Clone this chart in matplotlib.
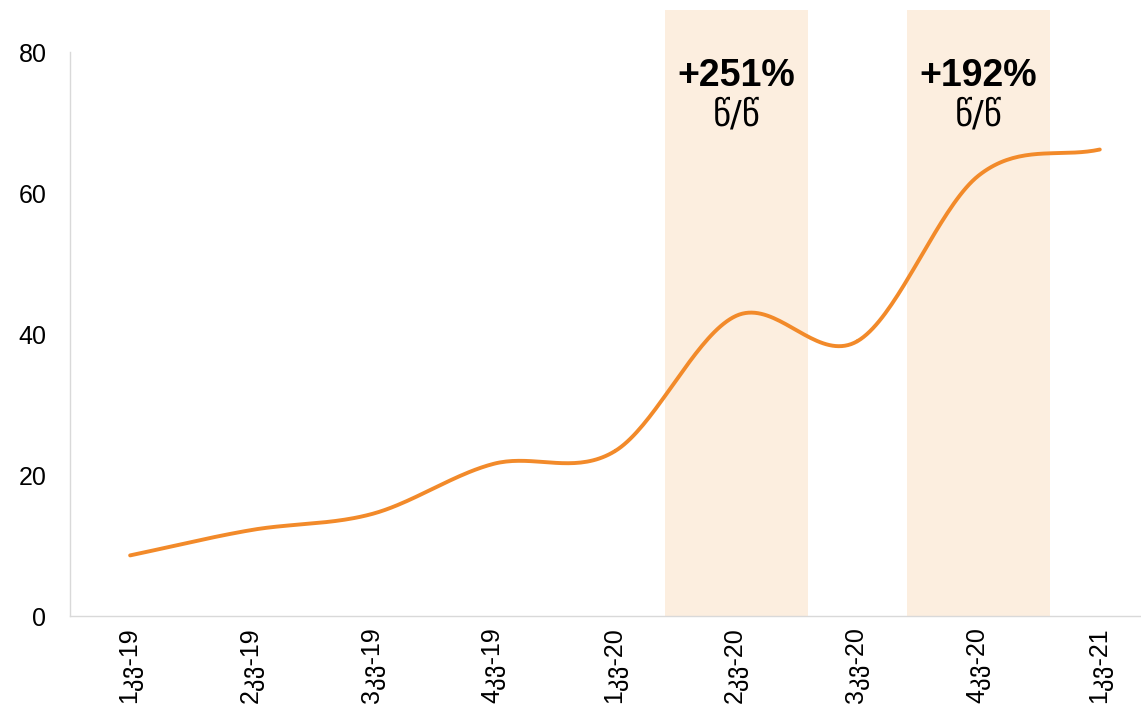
import numpy as np
import matplotlib.pyplot as plt

plt.rcParams['font.family'] = ['Liberation Sans', 'DejaVu Sans']

quarters = ['1კვ-19', '2კვ-19', '3კვ-19', '4კვ-19', '1კვ-20',
            '2კვ-20', '3კვ-20', '4კვ-20', '1კვ-21']
values = [8.6, 12.2, 14.5, 21.6, 23.4, 42.6, 39.0, 62.5, 66.2]
highlight_idx = [5, 7]
highlight_text = ['+251%', '+192%']
yoy_label = 'წ/წ'


def catmull_rom(x, y, n=40):
    # smooth curve through the points, like Excel's smoothed line
    x = np.asarray(x, float)
    y = np.asarray(y, float)
    px = np.concatenate([[2 * x[0] - x[1]], x, [2 * x[-1] - x[-2]]])
    py = np.concatenate([[2 * y[0] - y[1]], y, [2 * y[-1] - y[-2]]])
    xs, ys = [], []
    t = np.linspace(0, 1, n)
    for i in range(1, len(px) - 2):
        for p, out in ((px, xs), (py, ys)):
            p0, p1, p2, p3 = p[i - 1], p[i], p[i + 1], p[i + 2]
            out.extend(0.5 * ((2 * p1) + (-p0 + p2) * t
                              + (2 * p0 - 5 * p1 + 4 * p2 - p3) * t ** 2
                              + (-p0 + 3 * p1 - 3 * p2 + p3) * t ** 3))
    return np.array(xs), np.array(ys)


fig = plt.figure(figsize=(11.41, 7.28), dpi=100)
ax = fig.add_axes([70 / 1141, 112 / 728, 1071 / 1141, 606 / 728])

x = np.arange(len(quarters))
for i, txt in zip(highlight_idx, highlight_text):
    ax.axvspan(i - 0.59, i + 0.59, color='#FCEEDF', zorder=0, lw=0)
    ax.text(i, 76.6, txt, ha='center', va='center', fontsize=27,
            fontweight='bold', color='black')
    ax.text(i, 71.0, yoy_label, ha='center', va='center', fontsize=25,
            color='black', family=['DejaVu Sans'])

sx, sy = catmull_rom(x, values)
ax.plot(sx, sy, color='#F28A2A', lw=2.8, solid_capstyle='round', zorder=3)

ax.set_xlim(-0.496, 8.34)
ax.set_ylim(0, 86)
ax.set_yticks([0, 20, 40, 60, 80])
ax.set_xticks(x)
ax.set_xticklabels(quarters, rotation=90)
ax.tick_params(axis='both', length=0, labelsize=18, colors='black')
ax.tick_params(axis='x', pad=8)
ax.tick_params(axis='y', pad=17)

for s in ['top', 'right']:
    ax.spines[s].set_visible(False)
for s in ['left', 'bottom']:
    ax.spines[s].set_color('#D9D9D9')
    ax.spines[s].set_linewidth(1)
ax.spines['left'].set_bounds(0, 80)

fig.savefig('out.png', dpi=100)
